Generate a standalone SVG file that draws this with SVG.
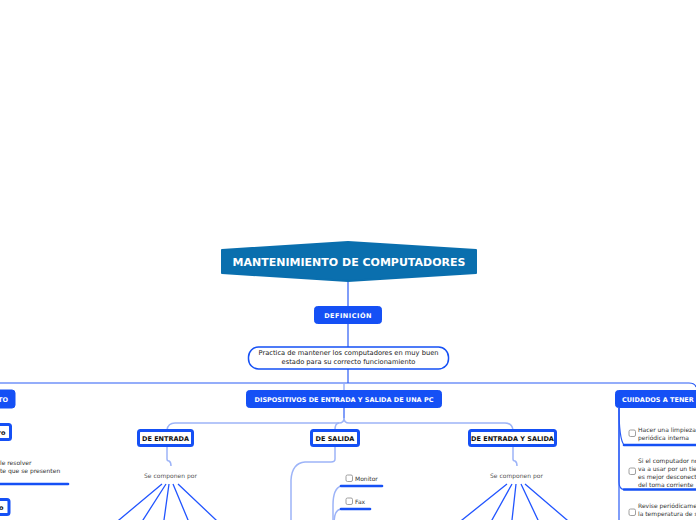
<svg xmlns="http://www.w3.org/2000/svg" width="696" height="520" viewBox="0 0 696 520">
<style>
text{font-family:"DejaVu Sans",Verdana,sans-serif}
.w{fill:#fff;font-weight:bold;font-size:6.5px}
.b{fill:#111;font-weight:bold;font-size:6.5px}
.t{fill:#333;font-size:6px}
.d{fill:#222;font-size:6.7px}
.g{fill:#555;font-size:6px}
.nb{fill:#1550f5;stroke:#1550f5;stroke-width:1}
.nw{fill:#fff;stroke:#1550f5;stroke-width:3}
.cb{fill:#fff;stroke:#888;stroke-width:0.8}
.ul{stroke:#1550f5;stroke-width:2.6;stroke-linecap:round;fill:none}
.c{fill:none;stroke:#2a5cf5;stroke-width:1.2}
.cl{fill:none;stroke:#9db4f8;stroke-width:1.5}
.f{fill:none;stroke:#2255ff;stroke-width:1.3}
</style>
<g id="connectors">
<path class="c" d="M348,282 L348,306"/>
<path class="c" d="M348,324 L348,347"/>
<path class="c" d="M348,369 L348,383"/>
<path class="c" d="M0,383 L689,383 Q695,383 696,387"/>
<path class="cl" d="M344,384 L344,390"/>
<path class="c" d="M344,408 L344,418"/>
<path class="cl" d="M344,418 Q344,423 339,423 L175,423 Q168,423 167,430"/>
<path class="cl" d="M344,418 Q344,423 349,423 L505,423 Q512,423 513,430"/>
<path class="cl" d="M339,423 Q335,423 335,430"/>
<path class="cl" d="M167,447 L167,459 Q167,461 169,461 Q171,462 171,466"/>
<path class="cl" d="M513,447 L513,459 Q513,461 515,461 Q517,462 517,466"/>
<path class="cl" d="M335,447 L335,459 Q335,462 331,462 L305,462 Q292,463 291,480 L291,525"/>
<path class="cl" d="M341,486 C335,488 333,495 333,505 L333,525"/>
<path class="cl" d="M341,509 C336,510 334,514 334,525"/>
<path class="f" d="M162,484 L107,530 M166,484 L136.6,530 M169,484 L162.6,530 M173,484 L192.2,530 M178,484 L226.6,530"/>
<path class="f" d="M507,484 L449.5,530 M512,484 L486.4,530 M516,484 L510.9,530 M521,484 L542.7,530 M525,484 L578.7,530"/>
<path class="c" d="M619,408 C619,425 620,440 624,445"/>
<path class="c" d="M619,408 L619,482 Q619,489 624,489.5"/>
<path class="c" d="M619,408 L619,525"/>
</g>
<g id="title">
<path d="M222,250 L348,242 L476,250 L476,273 L348,281 L222,273 Z" fill="#0a6fae" stroke="#0a6fae" stroke-width="2" stroke-linejoin="round"/>
<text x="349" y="266" text-anchor="middle" fill="#fff" font-weight="bold" font-size="11">MANTENIMIENTO DE COMPUTADORES</text>
</g>
<g id="definicion">
<rect class="nb" x="314.5" y="306.5" width="67" height="17" rx="3"/>
<text class="w" x="348" y="317.5" text-anchor="middle" letter-spacing="0.5">DEFINICIÓN</text>
</g>
<g id="descripcion">
<rect x="248.5" y="347" width="200" height="22" rx="10" fill="#fff" stroke="#1550f5" stroke-width="1.5"/>
<text class="d" x="348.5" y="355" text-anchor="middle">Practica de mantener los computadores en muy buen</text>
<text class="d" x="348.5" y="363.5" text-anchor="middle">estado para su correcto funcionamiento</text>
</g>
<g id="left-node">
<rect class="nb" x="-40" y="390" width="55" height="18" rx="3"/>
<text class="w" x="8" y="401.5" text-anchor="end">TO</text>
</g>
<g id="left-sub1">
<rect class="nw" x="-40" y="424.5" width="50.5" height="15" rx="2"/>
<text class="b" x="5.5" y="434.5" text-anchor="end">ro</text>
</g>
<g id="left-text">
<text class="t" x="0" y="464.5">le resolver</text>
<text class="t" x="0" y="472.5">te que se presenten</text>
<path class="ul" d="M-5,484 L68,484"/>
</g>
<g id="left-sub2">
<rect class="nw" x="-40" y="499.5" width="49" height="15" rx="2"/>
<text class="b" x="3.5" y="509.5" text-anchor="end">o</text>
</g>
<g id="dispositivos">
<rect class="nb" x="246.5" y="390.5" width="195" height="17" rx="3"/>
<text class="w" x="344" y="401.5" text-anchor="middle">DISPOSITIVOS DE ENTRADA Y SALIDA DE UNA PC</text>
</g>
<g id="cuidados">
<rect class="nb" x="615.5" y="390.5" width="100" height="17" rx="3"/>
<text class="w" x="622" y="401.5">CUIDADOS A TENER</text>
</g>
<g id="de-entrada">
<rect class="nw" x="138.5" y="430.5" width="54" height="15" rx="2"/>
<text class="b" x="165.5" y="440.5" text-anchor="middle">DE ENTRADA</text>
</g>
<g id="de-salida">
<rect class="nw" x="311.5" y="430.5" width="47" height="15" rx="2"/>
<text class="b" x="335" y="440.5" text-anchor="middle">DE SALIDA</text>
</g>
<g id="de-entrada-salida">
<rect class="nw" x="469.5" y="430.5" width="86" height="15" rx="2"/>
<text class="b" x="512.5" y="440.5" text-anchor="middle">DE ENTRADA Y SALIDA</text>
</g>
<g id="se-componen-1">
<text class="g" x="170.5" y="478" text-anchor="middle">Se componen por</text>
</g>
<g id="se-componen-2">
<text class="g" x="516.5" y="478" text-anchor="middle">Se componen por</text>
</g>
<g id="monitor">
<rect class="cb" x="346" y="475" width="6.5" height="6.5" rx="1.5"/>
<text class="t" x="355" y="480.5">Monitor</text>
<path class="ul" d="M341,486 L382,486"/>
</g>
<g id="fax">
<rect class="cb" x="346" y="498" width="6.5" height="6.5" rx="1.5"/>
<text class="t" x="355" y="503.5">Fax</text>
<path class="ul" d="M341,509 L370,509"/>
</g>
<g id="cuidado-1">
<rect class="cb" x="629" y="430" width="6.5" height="6.5" rx="1.5"/>
<text class="t" x="638" y="431.5">Hacer una limpieza</text>
<text class="t" x="638" y="439.5">periódica interna</text>
<path class="ul" d="M624,445 L700,445"/>
</g>
<g id="cuidado-2">
<rect class="cb" x="629" y="468" width="6.5" height="6.5" rx="1.5"/>
<text class="t" x="638" y="463">Si el computador no se</text>
<text class="t" x="638" y="471">va a usar por un tiempo</text>
<text class="t" x="638" y="479">es mejor desconectarlo</text>
<text class="t" x="638" y="487">del toma corriente</text>
<path class="ul" d="M624,489.5 L700,489.5"/>
</g>
<g id="cuidado-3">
<rect class="cb" x="629" y="509" width="6.5" height="6.5" rx="1.5"/>
<text class="t" x="638" y="508">Revise periódicamente</text>
<text class="t" x="638" y="516">la temperatura de su</text>
</g>
</svg>
